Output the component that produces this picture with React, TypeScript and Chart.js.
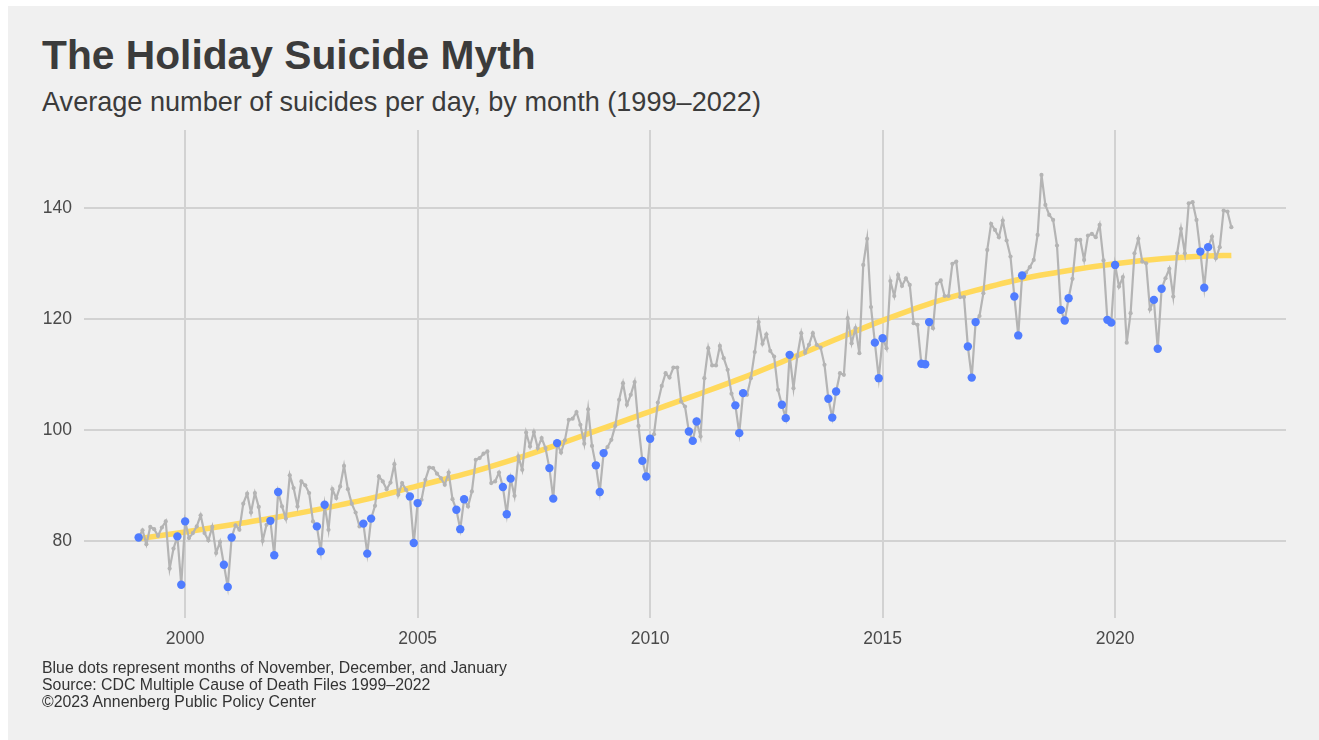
import React, { useEffect, useRef } from "react";
import { Chart, registerables } from "chart.js";

Chart.register(...registerables);

// ---- Data ----
const firstYear = 1999;
// Average number of suicides per day, one row per year, Jan..Dec (2022 ends in July)
const monthlyValues: number[] = [
  /* 1999 */ 80.6, 81.9, 79.4, 82.5, 82.1, 80.9, 82.4, 83.5, 75.0, 78.6, 80.8, 72.1,
  /* 2000 */ 83.5, 80.5, 81.4, 82.6, 84.6, 81.4, 80.1, 82.5, 77.8, 79.8, 75.7, 71.7,
  /* 2001 */ 80.6, 82.8, 82.0, 86.7, 88.5, 85.1, 88.6, 86.1, 80.0, 82.9, 83.6, 77.4,
  /* 2002 */ 88.8, 86.2, 84.0, 91.8, 89.5, 86.2, 90.7, 90.0, 88.6, 83.5, 82.6, 78.1,
  /* 2003 */ 86.5, 82.0, 89.3, 87.7, 89.8, 93.5, 89.3, 86.7, 85.1, 82.6, 83.1, 77.7,
  /* 2004 */ 84.0, 86.3, 91.6, 90.7, 89.3, 90.5, 93.8, 88.3, 90.4, 89.2, 88.0, 79.6,
  /* 2005 */ 86.8, 87.4, 91.0, 93.2, 93.1, 92.1, 91.3, 90.1, 92.3, 87.5, 85.6, 82.1,
  /* 2006 */ 87.5, 86.2, 88.9, 94.6, 94.9, 95.7, 96.1, 90.4, 90.7, 92.3, 89.7, 84.8,
  /* 2007 */ 91.2, 88.1, 95.2, 92.8, 99.5, 97.0, 99.6, 96.7, 98.5, 96.7, 93.1, 87.6,
  /* 2008 */ 97.6, 95.9, 98.1, 101.8, 102.0, 103.2, 100.9, 97.5, 103.7, 97.1, 93.6, 88.8,
  /* 2009 */ 95.8, 96.9, 98.2, 100.7, 105.4, 108.4, 104.5, 106.3, 108.6, 100.7, 94.4, 91.6,
  /* 2010 */ 98.4, 99.2, 104.9, 107.9, 110.2, 109.4, 111.2, 111.2, 105.1, 104.2, 99.7, 98.0,
  /* 2011 */ 101.5, 98.8, 109.3, 114.7, 111.6, 111.6, 115.1, 112.9, 110.8, 106.5, 104.4, 99.4,
  /* 2012 */ 106.6, 106.3, 109.3, 114.0, 119.4, 115.5, 117.2, 114.2, 113.2, 107.2, 104.5, 102.1,
  /* 2013 */ 113.5, 107.5, 113.3, 117.4, 113.9, 115.3, 117.4, 115.3, 114.8, 111.7, 105.6, 102.2,
  /* 2014 */ 106.9, 110.2, 109.9, 120.1, 115.6, 118.3, 113.8, 129.7, 134.4, 122.1, 115.7, 109.3,
  /* 2015 */ 116.5, 114.7, 126.8, 124.1, 127.9, 125.9, 127.3, 126.1, 119.2, 118.9, 111.9, 111.8,
  /* 2016 */ 119.4, 118.3, 126.3, 126.9, 124.1, 124.1, 129.9, 130.3, 123.9, 123.9, 115.0, 109.4,
  /* 2017 */ 119.4, 120.5, 124.6, 132.4, 137.1, 136.0, 134.7, 137.7, 134.1, 131.2, 124.0, 117.0,
  /* 2018 */ 127.8, 128.3, 129.3, 130.6, 135.1, 145.9, 140.5, 138.7, 137.8, 133.2, 121.6, 119.7,
  /* 2019 */ 123.7, 127.2, 134.2, 134.2, 130.6, 135.0, 135.3, 134.7, 136.9, 130.5, 119.8, 119.3,
  /* 2020 */ 129.7, 125.8, 127.5, 115.7, 121.0, 131.8, 134.4, 130.3, 130.0, 121.7, 123.4, 114.6,
  /* 2021 */ 125.4, 127.3, 129.0, 124.0, 131.8, 136.2, 131.8, 140.8, 141.0, 137.8, 132.1, 125.6,
  /* 2022 */ 132.9, 134.8, 130.9, 132.9, 139.5, 139.3, 136.5,
];
// Months highlighted in blue (0 = January, 10 = November, 11 = December)
const holidayMonths = [0, 10, 11];

// Smoothed trend
const trendX = [1999, 2000, 2001, 2002, 2003, 2004, 2005, 2006, 2007, 2008, 2009, 2010, 2011, 2012, 2013, 2014, 2015, 2016, 2017, 2018, 2019, 2020, 2021, 2022, 2022.5];
const trendValues = [80.4, 81.6, 82.9, 84.3, 85.9, 87.7, 89.9, 92.0, 94.5, 97.3, 100.3, 103.3, 106.3, 109.4, 112.8, 116.3, 119.7, 122.7, 125.1, 127.2, 128.7, 129.9, 130.8, 131.3, 131.4];

const xTicks = [2000, 2005, 2010, 2015, 2020];
const yTicks = [80, 100, 120, 140];

const titleText = "The Holiday Suicide Myth";
const subtitleText = "Average number of suicides per day, by month (1999\u20132022)";
const footerLines = [
  "Blue dots represent months of November, December, and January",
  "Source: CDC Multiple Cause of Death Files 1999\u20132022",
  "\u00a92023 Annenberg Public Policy Center",
];

const FONT = "'Liberation Sans', Arial, Helvetica, sans-serif";

export default function App() {
  const canvasRef = useRef<HTMLCanvasElement | null>(null);

  useEffect(() => {
    const canvas = canvasRef.current;
    if (!canvas) return;

    const allPoints = monthlyValues.map((v, i) => ({
      x: firstYear + Math.floor(i / 12) + (i % 12) / 12,
      y: v,
      m: i % 12,
    }));
    const monthlyPoints = allPoints.map((p) => ({ x: p.x, y: p.y }));
    const bluePoints = allPoints
      .filter((p) => holidayMonths.includes(p.m))
      .map((p) => ({ x: p.x, y: p.y }));
    const trendPoints = trendX.map((x, i) => ({ x, y: trendValues[i] }));

    const chart = new Chart(canvas, {
      type: "scatter",
      data: {
        datasets: [
          {
            label: "Nov/Dec/Jan",
            data: bluePoints,
            showLine: false,
            pointRadius: 4.2,
            pointHoverRadius: 4.2,
            backgroundColor: "#4f7cff",
            pointBorderWidth: 0,
            borderWidth: 0,
            order: 0,
          },
          {
            label: "Monthly",
            data: monthlyPoints,
            showLine: true,
            borderColor: "#b4b4b4",
            borderWidth: 2.2,
            pointRadius: 2.1,
            pointHoverRadius: 2.1,
            pointBackgroundColor: "#b4b4b4",
            pointBorderWidth: 0,
            tension: 0,
            order: 1,
          },
          {
            label: "Trend",
            data: trendPoints,
            showLine: true,
            borderColor: "#ffd95c",
            borderWidth: 5.5,
            pointRadius: 0,
            pointHoverRadius: 0,
            cubicInterpolationMode: "monotone",
            order: 2,
          } as any,
        ],
      },
      options: {
        responsive: false,
        animation: false,
        events: [],
        layout: { padding: { top: 130, right: 33, bottom: 0, left: 0 } },
        plugins: {
          legend: { display: false },
          tooltip: { enabled: false },
        },
        scales: {
          x: {
            type: "linear",
            min: 1997.825,
            max: 2023.675,
            afterFit: (s: any) => {
              s.height = 122;
            },
            afterBuildTicks: (s: any) => {
              s.ticks = xTicks.map((v) => ({ value: v }));
            },
            grid: { color: "#d2d2d2", lineWidth: 2, drawTicks: false },
            border: { display: false },
            ticks: {
              padding: 11,
              color: "#4a4a4a",
              font: { family: FONT, size: 17.5 },
              callback: (v: any) => String(v),
            },
          },
          y: {
            type: "linear",
            min: 66.1,
            max: 154,
            afterFit: (s: any) => {
              s.width = 84;
            },
            afterBuildTicks: (s: any) => {
              s.ticks = yTicks.map((v) => ({ value: v }));
            },
            grid: { color: "#d2d2d2", lineWidth: 2, drawTicks: false },
            border: { display: false },
            ticks: {
              padding: 12,
              color: "#4a4a4a",
              font: { family: FONT, size: 17.5 },
              callback: (v: any) => String(v),
            },
          },
        },
      },
    });

    return () => chart.destroy();
  }, []);

  return (
    <div
      style={{
        position: "fixed",
        left: 0,
        top: 0,
        width: 1319,
        height: 740,
        background: "#ffffff",
        overflow: "hidden",
      }}
    >
      <div
        style={{
          position: "absolute",
          left: 8,
          top: 6,
          right: 0,
          bottom: 0,
          background: "#f0f0f0",
        }}
      />
      <div
        style={{
          position: "absolute",
          left: 42,
          top: 34.5,
          fontFamily: FONT,
          fontWeight: 700,
          fontSize: 40.75,
          lineHeight: "40.75px",
          color: "#3b3b3b",
          whiteSpace: "nowrap",
        }}
      >
        {titleText}
      </div>
      <div
        style={{
          position: "absolute",
          left: 42,
          top: 88.1,
          fontFamily: FONT,
          fontSize: 27.1,
          lineHeight: "27.1px",
          color: "#3b3b3b",
          whiteSpace: "nowrap",
        }}
      >
        {subtitleText}
      </div>
      <canvas
        ref={canvasRef}
        width={1319}
        height={740}
        style={{ position: "absolute", left: 0, top: 0, width: 1319, height: 740 }}
      />
      <div
        style={{
          position: "absolute",
          left: 42,
          top: 659.0,
          fontFamily: FONT,
          fontSize: 15.85,
          lineHeight: "17.2px",
          color: "#333333",
          whiteSpace: "nowrap",
        }}
      >
        {footerLines.map((l) => (
          <div key={l}>{l}</div>
        ))}
      </div>
    </div>
  );
}
